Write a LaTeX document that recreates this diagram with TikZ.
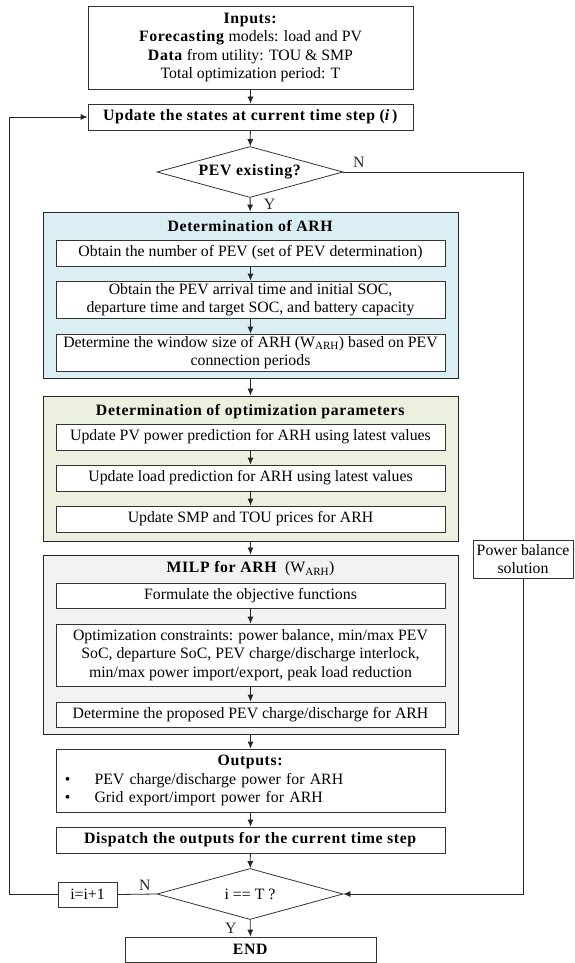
\documentclass[tikz,border=0pt]{standalone}
\usepackage{fontspec}
\setmainfont{Liberation Serif}[BoldFeatures={LetterSpace=4}]
\usetikzlibrary{shapes.geometric, arrows.meta, positioning}
\definecolor{arhblue}{HTML}{DAEEF3}
\definecolor{optgreen}{HTML}{EBF1DE}
\definecolor{milpgray}{HTML}{F2F2F2}

\begin{document}
\begin{tikzpicture}[x=1pt, y=-1pt,
    every node/.style={font=\fontsize{15.8}{18.5}\selectfont},
    box/.style={draw=black!80, fill=white, line width=0.8pt, inner sep=0pt,
                align=center, minimum width=389pt, minimum height=26pt},
    wide/.style={box, minimum width=325pt},
    panel/.style={draw=black!85, line width=0.9pt, inner sep=0pt, minimum width=415pt},
    decision/.style={diamond, draw=black!80, line width=0.8pt, aspect=3.6, inner sep=0pt,
                     minimum width=186pt, minimum height=51pt},
    arr/.style={-{Latex[length=7pt,width=6pt]}, line width=0.8pt, black!85},
    wire/.style={line width=0.8pt, black!85}]

    \useasboundingbox (0,0) rectangle (574,963);

    \node[wide, minimum height=83pt] (inputs) at (250.5,47.5) {
        \textbf{Inputs:}\\
        \textbf{Forecasting} models: load and PV\\
        \textbf{Data} from utility: TOU \& SMP\\
        Total optimization period: T};
    \node[wide] (update) at (250.5,117) {\textbf{Update the states at current time step (\textit{i}\,)}};
    \node[decision] (pev) at (250,172) {\textbf{PEV existing?}};

    % determination of ARH
    \node[panel, fill=arhblue, minimum height=166pt] (arh) at (250.5,295) {};
    \node (arhtitle) at (250.5,226) {\textbf{Determination of ARH}};
    \node[box] (arh1) at (250.5,253) {Obtain the number of PEV (set of PEV determination)};
    \node[box, minimum height=37pt] (arh2) at (250.5,299.5) {Obtain the PEV arrival time and initial SOC,\\
        departure time and target SOC, and battery capacity};
    \node[box, minimum height=37pt] (arh3) at (250.5,352.5) {Determine the window size of ARH (W\textsubscript{ARH}) based on PEV\\
        connection periods};

    % optimization parameters
    \node[panel, fill=optgreen, minimum height=145pt] (opt) at (250.5,468.5) {};
    \node (opttitle) at (250.5,412) {\textbf{Determination of optimization parameters}};
    \node[box] (opt1) at (250.5,437) {Update PV power prediction for ARH using latest values};
    \node[box] (opt2) at (250.5,478) {Update load prediction for ARH using latest values};
    \node[box] (opt3) at (250.5,519) {Update SMP and TOU prices for ARH};

    % MILP
    \node[panel, fill=milpgray, minimum height=179pt] (milp) at (250.5,644.5) {};
    \node (milptitle) at (250.5,569) {\textbf{MILP for ARH}\ \ (W\textsubscript{ARH})};
    \node[box, minimum height=25pt] (milp1) at (250.5,595.5) {Formulate the objective functions};
    \node[box, minimum height=62pt] (milp2) at (250.5,655) {Optimization constraints: power balance, min/max PEV\\
        SoC, departure SoC, PEV charge/discharge interlock,\\
        min/max power import/export, peak load reduction};
    \node[box, minimum height=25pt] (milp3) at (250.5,714.5) {Determine the proposed PEV charge/discharge for ARH};

    \node[box, minimum height=63pt, text width=389pt] (outputs) at (250.5,780.5) {
        \textbf{Outputs:}\\
        \makebox[389pt][l]{\hspace{9pt}\textbullet\hspace{24pt}PEV charge/discharge power for ARH}\\
        \makebox[389pt][l]{\hspace{9pt}\textbullet\hspace{24pt}Grid export/import power for ARH}};
    \node[box] (dispatch) at (250.5,840) {\textbf{Dispatch the outputs for the current time step}};
    \node[decision] (check) at (250,894) {i == T ?};
    \node[box, minimum width=59pt, minimum height=25pt] (incr) at (87.5,894.5) {i=i+1};
    \node[box, minimum width=251pt, minimum height=25pt] (finish) at (250.5,949.5) {\textbf{END}};
    \node[box, minimum width=100pt, minimum height=38pt] (pbal) at (523,559) {Power balance\\ solution};
    \coordinate (loopx) at (9,0);

    \draw[arr] (inputs) -- (update);
    \draw[arr] (update) -- (pev);
    \draw[arr] (pev) -- node[right=10pt] {Y} (arh);
    \draw[arr] (arh1) -- (arh2);
    \draw[arr] (arh2) -- (arh3);
    \draw[arr] (arh) -- (opt);
    \draw[arr] (opt1) -- (opt2);
    \draw[arr] (opt2) -- (opt3);
    \draw[arr] (opt) -- (milp);
    \draw[arr] (milp1) -- (milp2);
    \draw[arr] (milp2) -- (milp3);
    \draw[arr] (milp) -- (outputs);
    \draw[arr] (outputs) -- (dispatch);
    \draw[arr] (dispatch) -- (check);
    \draw[arr] (check) -- node[left=10pt] {Y} (finish);
    % N branches
    \draw[wire] (pev.east) node[above right=1pt and 6pt] {N} -- (pev.east -| pbal) -- (pbal.north);
    \draw[arr] (pbal.south) |- (check.east);
    \draw[wire] (check.west) -- node[above, pos=0.3] {N} (incr.east);
    \draw[arr] (incr.west) -- (incr.west -| loopx) |- (update.west);
\end{tikzpicture}
\end{document}
